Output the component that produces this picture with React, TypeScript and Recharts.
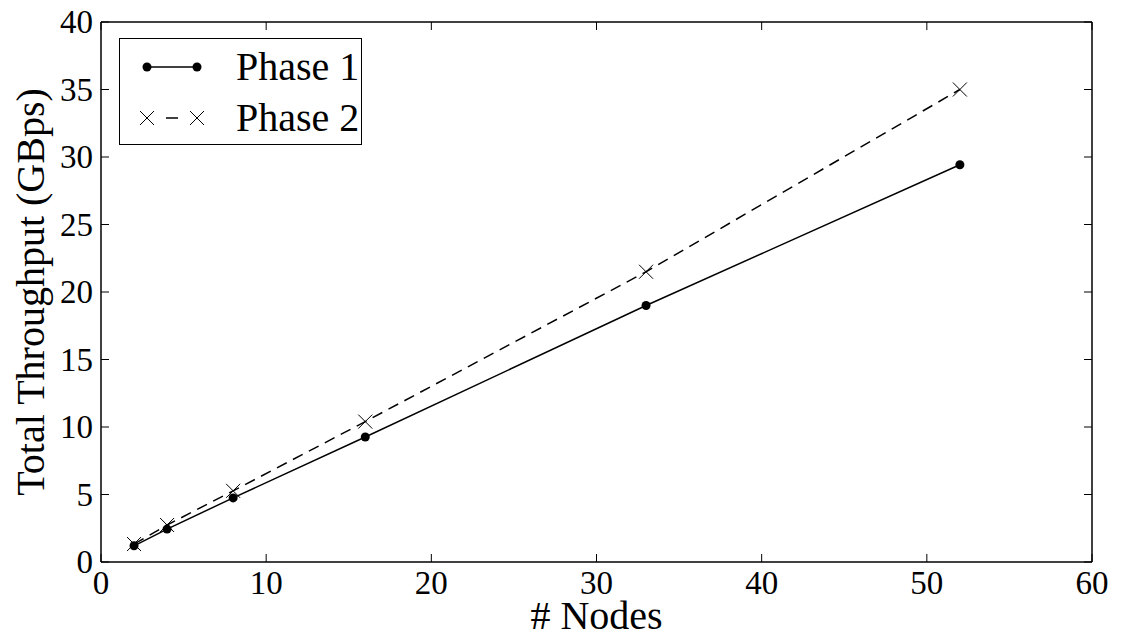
import { Line, LineChart, XAxis, YAxis } from 'recharts'

const nodes = [2, 4, 8, 16, 33, 52]
const phase1 = [1.2, 2.44, 4.75, 9.26, 19.0, 29.43]
const phase2 = [1.33, 2.74, 5.27, 10.4, 21.5, 35.0]
const xTicks = [0, 10, 20, 30, 40, 50, 60]
const yTicks = [0, 5, 10, 15, 20, 25, 30, 35, 40]

const data = nodes.map((n, i) => ({ nodes: n, phase1: phase1[i], phase2: phase2[i] }))

const FONT = '"Liberation Serif", "DejaVu Serif", serif'
const TICK_FONT = 33
const LABEL_FONT = 40
const TICK = 8

function LeftTick({ x, y, payload }: any) {
    return (
        <g>
            <line x1={x} x2={x + TICK} y1={y} y2={y} stroke='#000' strokeWidth={1} />
            <text x={x - 8} y={y} textAnchor='end' dominantBaseline='central' fontFamily={FONT} fontSize={TICK_FONT} fill='#000'>
                {payload.value}
            </text>
        </g>
    )
}

function BottomTick({ x, y, payload }: any) {
    return (
        <g>
            <line x1={x} x2={x} y1={y} y2={y - TICK} stroke='#000' strokeWidth={1} />
            <text x={x} y={y + 32} textAnchor='middle' fontFamily={FONT} fontSize={TICK_FONT} fill='#000'>
                {payload.value}
            </text>
        </g>
    )
}

function RightTick({ x, y }: any) {
    return <line x1={x} x2={x - TICK} y1={y} y2={y} stroke='#000' strokeWidth={1} />
}

function TopTick({ x, y }: any) {
    return <line x1={x} x2={x} y1={y} y2={y + TICK} stroke='#000' strokeWidth={1} />
}

function CrossDot({ cx, cy }: any) {
    if (cx == null || cy == null) return null
    const s = 7
    return (
        <g>
            <line x1={cx - s} y1={cy - s} x2={cx + s} y2={cy + s} stroke='#000' strokeWidth={1} />
            <line x1={cx - s} y1={cy + s} x2={cx + s} y2={cy - s} stroke='#000' strokeWidth={1} />
        </g>
    )
}

function LegendBox() {
    const row = (label: string, dashed: boolean) => (
        <div style={{ display: 'flex', alignItems: 'center', height: 51 }}>
            <svg width={96} height={20} style={{ marginLeft: 20 }}>
                {dashed ? (
                    <>
                        <line x1={7} x2={57} y1={10} y2={10} stroke='#000' strokeWidth={1.5} strokeDasharray='0 19 12 19' />
                        <line x1={0} y1={3} x2={14} y2={17} stroke='#000' />
                        <line x1={0} y1={17} x2={14} y2={3} stroke='#000' />
                        <line x1={50} y1={3} x2={64} y2={17} stroke='#000' />
                        <line x1={50} y1={17} x2={64} y2={3} stroke='#000' />
                    </>
                ) : (
                    <>
                        <line x1={7} x2={57} y1={10} y2={10} stroke='#000' strokeWidth={1.5} />
                        <circle cx={7} cy={10} r={4.5} fill='#000' />
                        <circle cx={57} cy={10} r={4.5} fill='#000' />
                    </>
                )}
            </svg>
            <span style={{ fontFamily: FONT, fontSize: LABEL_FONT, color: '#000', lineHeight: 1 }}>{label}</span>
        </div>
    )
    return (
        <div
            style={{
                position: 'absolute',
                left: 119,
                top: 38,
                border: '1.5px solid #000',
                width: 243,
                height: 107,
                boxSizing: 'border-box',
                background: '#fff',
                paddingTop: 2
            }}
        >
            {row('Phase 1', false)}
            {row('Phase 2', true)}
        </div>
    )
}

export default function App() {
    return (
        <div style={{ position: 'absolute', left: 0, top: 0, width: 1121, height: 638, background: '#fff' }}>
            <LineChart width={1121} height={638} data={data} margin={{ top: 21, right: 28, bottom: 16, left: 0 }}>
                <XAxis
                    dataKey='nodes'
                    type='number'
                    domain={[0, 60]}
                    ticks={xTicks}
                    height={60}
                    axisLine={{ stroke: '#000', strokeWidth: 1.5 }}
                    tickLine={false}
                    tickSize={0}
                    tickMargin={0}
                    tick={<BottomTick />}
                    interval={0}
                    label={{ value: '# Nodes', position: 'insideBottom', offset: -7, fontFamily: FONT, fontSize: LABEL_FONT, fill: '#000' }}
                />
                <XAxis
                    xAxisId='top'
                    orientation='top'
                    dataKey='nodes'
                    type='number'
                    domain={[0, 60]}
                    ticks={xTicks}
                    height={1}
                    axisLine={{ stroke: '#000', strokeWidth: 1.5 }}
                    tickLine={false}
                    tickSize={0}
                    tickMargin={0}
                    tick={<TopTick />}
                    interval={0}
                />
                <YAxis
                    type='number'
                    domain={[0, 40]}
                    ticks={yTicks}
                    width={101}
                    axisLine={{ stroke: '#000', strokeWidth: 1.5 }}
                    tickLine={false}
                    tickSize={0}
                    tickMargin={0}
                    tick={<LeftTick />}
                    interval={0}
                    label={{
                        value: 'Total Throughput (GBps)',
                        angle: -90,
                        position: 'insideLeft',
                        offset: 30,
                        style: { textAnchor: 'middle' },
                        fontFamily: FONT,
                        fontSize: LABEL_FONT,
                        fill: '#000'
                    }}
                />
                <YAxis
                    yAxisId='right'
                    orientation='right'
                    type='number'
                    domain={[0, 40]}
                    ticks={yTicks}
                    width={1}
                    axisLine={{ stroke: '#000', strokeWidth: 1.5 }}
                    tickLine={false}
                    tickSize={0}
                    tickMargin={0}
                    tick={<RightTick />}
                    interval={0}
                />
                <Line
                    xAxisId='top'
                    yAxisId='right'
                    dataKey='phase1'
                    stroke='none'
                    dot={false}
                    activeDot={false}
                    legendType='none'
                    isAnimationActive={false}
                />
                <Line
                    dataKey='phase1'
                    stroke='#000'
                    strokeWidth={1.5}
                    dot={{ r: 4.5, fill: '#000', stroke: '#000', strokeWidth: 0 }}
                    isAnimationActive={false}
                />
                <Line
                    dataKey='phase2'
                    stroke='#000'
                    strokeWidth={1.5}
                    strokeDasharray='11 7'
                    dot={<CrossDot />}
                    isAnimationActive={false}
                />
            </LineChart>
            <LegendBox />
        </div>
    )
}
